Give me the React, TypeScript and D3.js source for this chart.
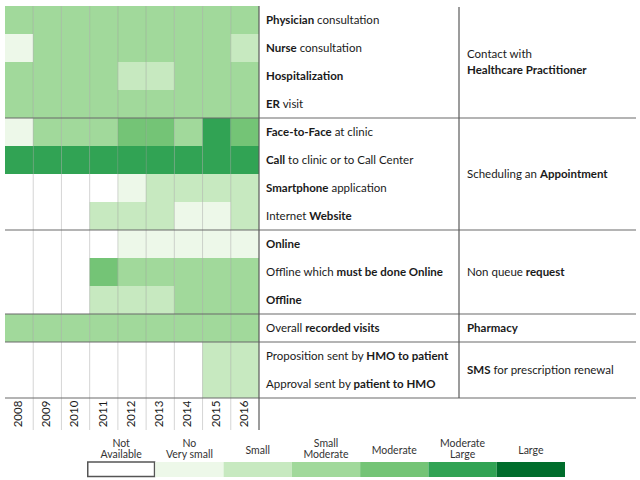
import React from "react";
import * as d3 from "d3";

const years = ["2008", "2009", "2010", "2011", "2012", "2013", "2014", "2015", "2016"];

const rowLabels = [
  "**Physician** consultation",
  "**Nurse** consultation",
  "**Hospitalization**",
  "**ER** visit",
  "**Face-to-Face** at clinic",
  "**Call** to clinic or to Call Center",
  "**Smartphone** application",
  "Internet **Website**",
  "**Online**",
  "Offline which **must be done Online**",
  "**Offline**",
  "Overall **recorded visits**",
  "Proposition sent by **HMO to patient**",
  "Approval sent by **patient to HMO**",
];

// 0 = Not available, 1 = No/Very small, 2 = Small, 3 = Small Moderate, 4 = Moderate, 5 = Moderate Large, 6 = Large
const physician = [3, 3, 3, 3, 3, 3, 3, 3, 3];
const nurse = [1, 3, 3, 3, 3, 3, 3, 3, 2];
const hospitalization = [3, 3, 3, 3, 2, 2, 3, 3, 3];
const erVisit = [3, 3, 3, 3, 3, 3, 3, 3, 3];
const faceToFace = [1, 3, 3, 3, 4, 4, 3, 5, 4];
const callClinic = [5, 5, 5, 5, 5, 5, 5, 5, 5];
const smartphone = [0, 0, 0, 0, 1, 2, 2, 2, 2];
const website = [0, 0, 0, 2, 2, 2, 1, 1, 2];
const online = [0, 0, 0, 0, 1, 1, 1, 1, 1];
const offlineOnline = [0, 0, 0, 4, 3, 3, 3, 3, 3];
const offline = [0, 0, 0, 2, 2, 2, 3, 3, 3];
const recordedVisits = [3, 3, 3, 3, 3, 3, 3, 3, 3];
const hmoToPatient = [0, 0, 0, 0, 0, 0, 0, 2, 2];
const patientToHmo = [0, 0, 0, 0, 0, 0, 0, 2, 2];

const rowValues = [
  physician, nurse, hospitalization, erVisit, faceToFace, callClinic, smartphone,
  website, online, offlineOnline, offline, recordedVisits, hmoToPatient, patientToHmo,
];

const groupLabels = [
  ["Contact with", "**Healthcare Practitioner**"],
  ["Scheduling an **Appointment**"],
  ["Non queue **request**"],
  ["**Pharmacy**"],
  ["**SMS** for prescription renewal"],
];
const groupSizes = [4, 4, 3, 1, 2];

const legendLabels = [
  ["Not", "Available"],
  ["No", "Very small"],
  ["Small"],
  ["Small", "Moderate"],
  ["Moderate"],
  ["Moderate", "Large"],
  ["Large"],
];
const levelColors = ["#ffffff", "#edf8e9", "#c7e9c0", "#a1d99b", "#74c476", "#31a354", "#006d2c"];

const FONT = "Lato, 'Open Sans', sans-serif";

function Rich({ text, x, y, size = 11.5, anchor = "start" }: { text: string; x: number; y: number; size?: number; anchor?: string }) {
  const parts = text.split("**");
  return (
    <text x={x} y={y} fontSize={size} fontFamily={FONT} fill="#1a1a1a" textAnchor={anchor} dominantBaseline="middle">
      {parts.map((p, i) => (
        <tspan key={i} fontWeight={i % 2 === 1 ? 700 : 400}>{p}</tspan>
      ))}
    </text>
  );
}

export default function App() {
  const W = 640, H = 480;
  const x = d3.scaleBand<string>().domain(years).range([5, 259]);
  const y = d3.scaleBand<number>().domain(d3.range(rowLabels.length)).range([6, 398]);
  const color = d3.scaleOrdinal<number, string>().domain(d3.range(levelColors.length)).range(levelColors);
  const legendX = d3.scaleBand<number>().domain(d3.range(legendLabels.length)).range([87, 565]);

  const groupStarts = groupSizes.map((_, i) => d3.sum(groupSizes.slice(0, i)));
  const rh = y.bandwidth();

  return (
    <svg width={W} height={H} style={{ position: "absolute", left: 0, top: 0, background: "#fff" }}>
      {rowValues.map((vals, r) =>
        vals.map((v, c) => (
          <rect key={`${r}-${c}`} x={x(years[c])!} y={y(r)!} width={x.bandwidth()} height={rh} fill={color(v)} />
        ))
      )}
      {/* column lines */}
      {years.slice(1).map((yr) => (
        <line key={yr} x1={x(yr)!} x2={x(yr)!} y1={6} y2={430} stroke="#888" strokeOpacity={0.35} strokeWidth={1} />
      ))}
      {/* group separators */}
      {groupStarts.map((gs, i) => {
        const yy = y(gs + groupSizes[i] - 1)! + rh;
        return <line key={i} x1={5} x2={636} y1={yy} y2={yy} stroke="#6a6a6a" strokeWidth={1.2} />;
      })}
      <line x1={259} x2={259} y1={6} y2={430} stroke="#5a5a5a" strokeWidth={1.2} />
      <line x1={459} x2={459} y1={7} y2={398} stroke="#5a5a5a" strokeWidth={1.2} />
      {/* row labels */}
      {rowLabels.map((lab, r) => (
        <Rich key={r} text={lab} x={266} y={y(r)! + rh / 2 + 0.5} />
      ))}
      {/* group labels */}
      {groupLabels.map((lines, i) => {
        const cy = y(groupStarts[i])! + (groupSizes[i] * rh) / 2 + 0.5;
        return lines.map((ln, k) => (
          <Rich key={`${i}-${k}`} text={ln} x={467} y={cy + (k - (lines.length - 1) / 2) * 16} />
        ));
      })}
      {/* year labels */}
      {years.map((yr) => (
        <text key={yr} transform={`translate(${x(yr)! + x.bandwidth() / 2},414) rotate(-90)`} fontSize={11.5} fontFamily={FONT} fill="#1a1a1a" textAnchor="middle" dominantBaseline="middle">{yr}</text>
      ))}
      {/* legend */}
      {legendLabels.map((lines, i) => {
        const lx = legendX(i)!;
        const bw = legendX.bandwidth();
        return (
          <g key={i}>
            <rect x={i === 0 ? lx + 0.75 : lx} y={462} width={i === 0 ? bw - 1.5 : bw} height={i === 0 ? 14.5 : 15} fill={levelColors[i]} stroke={i === 0 ? "#555" : "none"} strokeWidth={1.5} />
            {lines.map((ln, k) => (
              <text key={k} x={lx + bw / 2} y={lines.length === 1 ? 451 : 444.5 + k * 11} fontSize={10.5} fontFamily={FONT} fill="#333" textAnchor="middle" dominantBaseline="middle">{ln}</text>
            ))}
          </g>
        );
      })}
    </svg>
  );
}
